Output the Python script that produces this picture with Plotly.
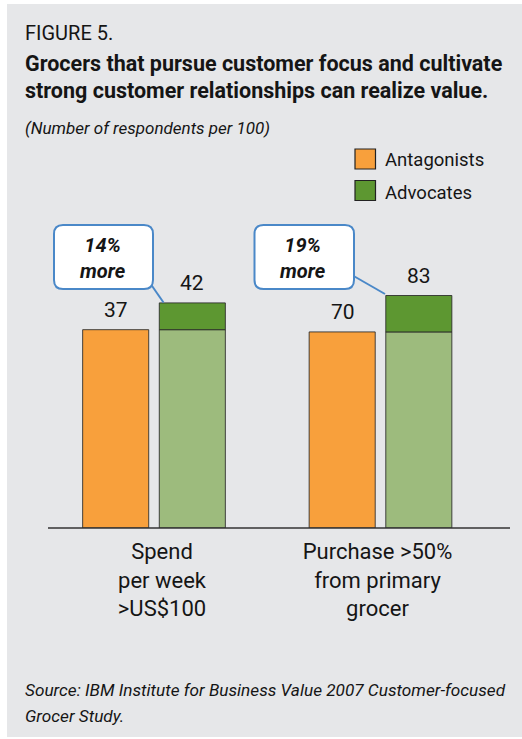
import plotly.graph_objects as go

# ---------------- data ----------------
categories = ["Spend<br>per week<br>>US$100", "Purchase >50%<br>from primary<br>grocer"]
series_names = ["Antagonists", "Advocates"]
antagonists = [37, 70]
advocates = [42, 83]
more_pct = [14, 19]

title_top = "FIGURE 5."
title_lines = ["Grocers that pursue customer focus and cultivate",
               "strong customer relationships can realize value."]
subtitle = "(Number of respondents per 100)"
source_lines = ["Source: IBM Institute for Business Value 2007 Customer-focused",
                "Grocer Study."]

# ---------------- styles ----------------
W, H = 522, 739
ML, MR, MT, MB = 48, 12, 228, 211
PW, PH = W - ML - MR, H - MT - MB
FONT = "Roboto, Liberation Sans, sans-serif"
ORANGE = "#F8A03C"
LIGHT_GREEN = "#9DBB7D"
DARK_GREEN = "#5D9731"
BLUE = "#4A88C8"
PANEL = "#E6E7E9"
EDGE = "rgba(40,40,40,0.85)"
INK = "#151515"


def px(x):
    return (x - ML) / PW


def py(y):
    return (H - MB - y) / PH


def rrect(x0, y0, x1, y1, r):
    pts = [
        ("M", [(x0 + r, y0)]), ("L", [(x1 - r, y0)]), ("Q", [(x1, y0), (x1, y0 + r)]),
        ("L", [(x1, y1 - r)]), ("Q", [(x1, y1), (x1 - r, y1)]), ("L", [(x0 + r, y1)]),
        ("Q", [(x0, y1), (x0, y1 - r)]), ("L", [(x0, y0 + r)]), ("Q", [(x0, y0), (x0 + r, y0)]),
    ]
    s = ""
    for cmd, ps in pts:
        s += cmd + " ".join(f"{px(a):.5f},{py(b):.5f}" for a, b in ps) + " "
    return s + "Z"


y_ranges = [[0, 55.97], [0, 107.1]]
domains = [[px(48), px(260)], [px(274.5), px(486.5)]]

fig = go.Figure()
for i, cat in enumerate(categories):
    xa = "x" if i == 0 else f"x{i+1}"
    ya = "y" if i == 0 else f"y{i+1}"
    fig.add_trace(go.Bar(x=[cat], y=[antagonists[i]], offsetgroup="ant", xaxis=xa, yaxis=ya,
                         marker=dict(color=ORANGE, line=dict(color=EDGE, width=1)),
                         name=series_names[0], showlegend=False))
    fig.add_trace(go.Bar(x=[cat], y=[antagonists[i]], offsetgroup="adv", xaxis=xa, yaxis=ya,
                         marker=dict(color=LIGHT_GREEN, line=dict(color=EDGE, width=1)),
                         name=series_names[1], showlegend=False))
    fig.add_trace(go.Bar(x=[cat], y=[advocates[i] - antagonists[i]], base=[antagonists[i]],
                         offsetgroup="adv", xaxis=xa, yaxis=ya,
                         marker=dict(color=DARK_GREEN, line=dict(color=EDGE, width=1)),
                         name=series_names[1], showlegend=False))

annotations = []
shapes = []

# value labels
for i, cat in enumerate(categories):
    xa = "x" if i == 0 else f"x{i+1}"
    ya = "y" if i == 0 else f"y{i+1}"
    for val, xs in ((antagonists[i], -38), (advocates[i], 38)):
        annotations.append(dict(x=cat, y=val, xref=xa, yref=ya, text=str(val), showarrow=False,
                                xshift=xs, yshift=6, yanchor="bottom",
                                font=dict(family=FONT, size=21, color=INK)))

# callouts
boxes = [(54, 225, 153, 289), (254.5, 225, 354, 289)]
pointers = [((150, 283), (163.5, 302.5)), ((354.5, 276.5), (385, 294))]
for i in range(2):
    x0, y0, x1, y1 = boxes[i]
    (a0, b0), (a1, b1) = pointers[i]
    shapes.append(dict(type="line", xref="paper", yref="paper", x0=px(a0), y0=py(b0),
                       x1=px(a1), y1=py(b1), line=dict(color=BLUE, width=2)))
    shapes.append(dict(type="path", xref="paper", yref="paper", path=rrect(x0, y0, x1, y1, 9),
                       fillcolor="white", line=dict(color=BLUE, width=2)))
    cx = (x0 + x1) / 2
    annotations.append(dict(x=px(cx - 1), y=py(258), xref="paper", yref="paper", showarrow=False,
                            text=f"<b><i>{more_pct[i]}%<br>more</i></b>", xanchor="center",
                            yanchor="middle", align="center",
                            font=dict(family=FONT, size=20, color=INK)))

# legend
leg = [(ORANGE, series_names[0], 149, 160), (DARK_GREEN, series_names[1], 180.5, 193)]
for col, name, top, tc in leg:
    shapes.append(dict(type="rect", xref="paper", yref="paper", x0=px(355), x1=px(375.5),
                       y0=py(top), y1=py(top + 20), fillcolor=col, line=dict(color="#222", width=1.2)))
    annotations.append(dict(x=px(383), y=py(tc), xref="paper", yref="paper", showarrow=False,
                            text=name, xanchor="left", yanchor="middle",
                            font=dict(family=FONT, size=18.5, color=INK)))

# baseline
shapes.append(dict(type="line", xref="paper", yref="paper", x0=px(48), x1=px(510), y0=0, y1=0,
                   line=dict(color="#333", width=1.5)))
# panel background
shapes.append(dict(type="rect", xref="paper", yref="paper", x0=px(7), x1=px(523), y0=py(4), y1=py(737),
                   fillcolor=PANEL, line=dict(width=0), layer="below"))


def txt(x, y, s, size):
    annotations.append(dict(x=px(x), y=py(y), xref="paper", yref="paper", showarrow=False, text=s,
                            xanchor="left", yanchor="middle",
                            font=dict(family=FONT, size=size, color=INK)))


txt(23, 33, title_top, 20)
txt(23, 63, f"<b>{title_lines[0]}</b>", 21.5)
txt(23, 91, f"<b>{title_lines[1]}</b>", 21.5)
txt(23, 128, f"<i>{subtitle}</i>", 17)
txt(23, 690, f"<i>{source_lines[0]}</i>", 17.2)
txt(23, 716, f"<i>{source_lines[1]}</i>", 17.2)

layout = dict(
    width=W, height=H, margin=dict(l=ML, r=MR, t=MT, b=MB, pad=0),
    paper_bgcolor="white", plot_bgcolor="rgba(0,0,0,0)",
    barmode="group", bargap=0.277, bargroupgap=0.138,
    showlegend=False, annotations=annotations, shapes=shapes,
    font=dict(family=FONT, color=INK),
)
shifts = [8, -3]
for i in range(2):
    k = "" if i == 0 else str(i + 1)
    layout[f"xaxis{k}"] = dict(domain=domains[i], anchor=f"y{k}", type="category", showline=False,
                               showgrid=False, zeroline=False, ticks="", fixedrange=True,
                               tickfont=dict(family=FONT, size=22, color=INK),
                               ticklabelshift=shifts[i], ticklabelstandoff=8)
    layout[f"yaxis{k}"] = dict(domain=[0, 1], anchor=f"x{k}", range=y_ranges[i], visible=False,
                               fixedrange=True)

fig.update_layout(**layout)
fig.write_html("out.html", config={"displayModeBar": False},
               post_script="document.body.style.margin='0';document.body.style.padding='0';")
